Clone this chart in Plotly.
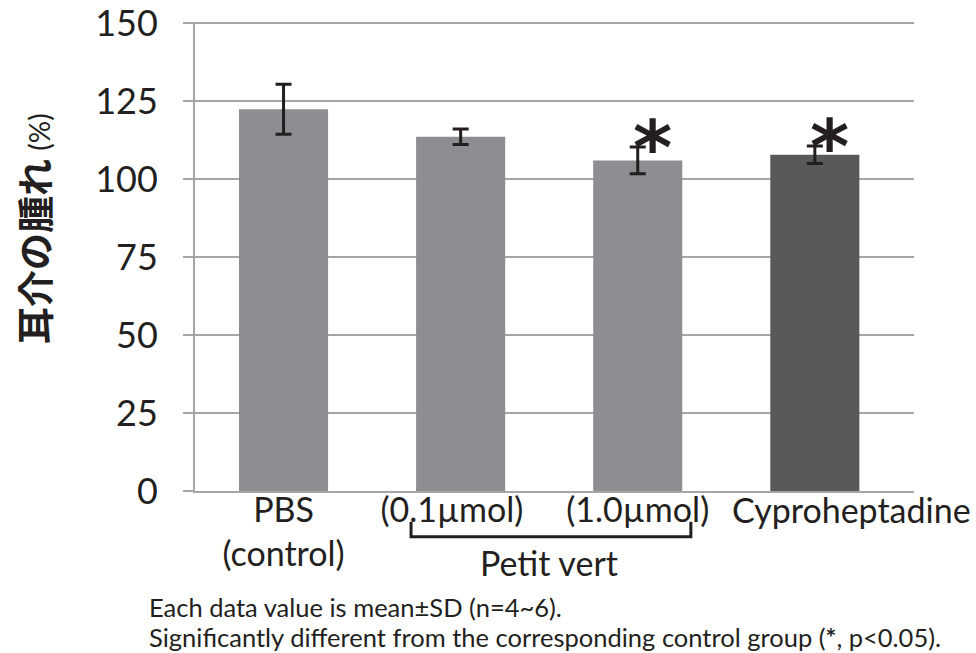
import plotly.graph_objects as go

NB = "\u00a0"
categories = ["PBS<br>(control)", "(0.1µmol)", "(1.0µmol)", "Cyproheptadine"]
means = [122.4, 113.6, 106.0, 107.8]
sds = [8.0, 2.5, 4.3, 2.8]
significant = [False, False, True, True]
bar_colors = ["#8d8e91", "#8d8e91", "#8d8e91", "#58595b"]
y_ticks = [0, 25, 50, 75, 100, 125, 150]

TXT = "#231f20"
GRID = "#a6a6a6"
FONT = "Lato"

X_RANGE = [-0.5, 3.56]
Y_RANGE = [0, 150.4]
M_L, M_R, M_T, M_B = 195, 62, 22, 162
W, H = 976, 653
PW, PH = W - M_L - M_R, H - M_T - M_B

# the last label sits to the right of its bar (as in the original); drawn as annotation
tick_text = [categories[0], categories[1] + NB * 2, categories[2], ""]

fig = go.Figure()
fig.add_trace(go.Bar(
    x=categories, y=means,
    marker=dict(color=bar_colors, line=dict(width=0)),
    error_y=dict(type="data", array=sds, visible=True, color=TXT, thickness=3, width=8),
    width=0.503,
    hoverinfo="skip",
))

def xpaper(v):
    return (v - X_RANGE[0]) / (X_RANGE[1] - X_RANGE[0])

def px2paper_x(px):
    return (px - M_L) / PW

def px2paper_y(py):
    return (H - M_B - py) / PH

annotations = []
for i, (c, m, s, sig) in enumerate(zip(categories, means, sds, significant)):
    if sig:
        annotations.append(dict(
            x=c, y=m + s, xref="x", yref="y", text="<b>*</b>", showarrow=False,
            font=dict(family="DejaVu Sans", size=75, color=TXT),
            xanchor="center", yanchor="middle", xshift=15, yshift=-1,
        ))

annotations.append(dict(
    x=categories[3], y=px2paper_y(509), xref="x", yref="paper", showarrow=False,
    text=categories[3], font=dict(family=FONT, size=34, color=TXT),
    xanchor="center", yanchor="middle", xshift=37,
))

# y-axis title
annotations.append(dict(
    x=px2paper_x(34), y=px2paper_y(229), xref="paper", yref="paper", textangle=-90, showarrow=False,
    text="<b>耳介の腫れ</b> <span style='font-size:28px;font-family:Lato'>(%)</span>",
    font=dict(family="Noto Sans CJK JP", size=37, color=TXT),
    xanchor="center", yanchor="middle",
))
# group label
annotations.append(dict(
    x=xpaper(1.5), y=px2paper_y(562), xref="paper", yref="paper", showarrow=False,
    text="Petit vert", font=dict(family=FONT, size=34, color=TXT),
    xanchor="center", yanchor="middle",
))
# footnotes
annotations.append(dict(
    x=px2paper_x(147), y=px2paper_y(607), xref="paper", yref="paper", showarrow=False,
    text="Each data value is mean±SD (n=4~6).", font=dict(family=FONT, size=25.5, color=TXT),
    xanchor="left", yanchor="middle",
))
annotations.append(dict(
    x=px2paper_x(147), y=px2paper_y(637), xref="paper", yref="paper", showarrow=False,
    text="Significantly different from the corresponding control group (<b>*</b>, p<0.05).",
    font=dict(family=FONT, size=25.5, color=TXT),
    xanchor="left", yanchor="middle",
))

# bracket under Petit vert doses
bx0, bx1 = xpaper(0.72), xpaper(2.30)
by0, by1 = px2paper_y(536.7), px2paper_y(521.7)
shapes = [dict(
    type="path", xref="paper", yref="paper",
    path=f"M {bx0},{by1} L {bx0},{by0} L {bx1},{by0} L {bx1},{by1}",
    line=dict(color=TXT, width=3),
)]

fig.update_layout(
    width=W, height=H,
    margin=dict(l=M_L, r=M_R, t=M_T, b=M_B),
    plot_bgcolor="white", paper_bgcolor="white",
    showlegend=False,
    annotations=annotations,
    shapes=shapes,
    xaxis=dict(
        type="category", range=X_RANGE, showgrid=False,
        showline=True, linecolor=GRID, linewidth=2,
        tickvals=categories, ticktext=tick_text,
        ticks="", tickangle=0, automargin=False,
        ticklabelstandoff=-12,
        tickfont=dict(family=FONT, size=34, color=TXT),
        fixedrange=True,
    ),
    yaxis=dict(
        range=Y_RANGE, tickvals=y_ticks, ticktext=[str(v) for v in y_ticks],
        showgrid=True, gridcolor=GRID, gridwidth=2,
        showline=True, linecolor=GRID, linewidth=2,
        ticks="outside", ticklen=10, tickwidth=2, tickcolor=GRID,
        tickfont=dict(family=FONT, size=36, color=TXT),
        ticklabelstandoff=18, automargin=False, ticklabeloverflow="allow",
        zeroline=False, fixedrange=True,
    ),
)

fig.write_html("out.html", config={"displayModeBar": False},
               post_script="document.body.style.margin='0';")
